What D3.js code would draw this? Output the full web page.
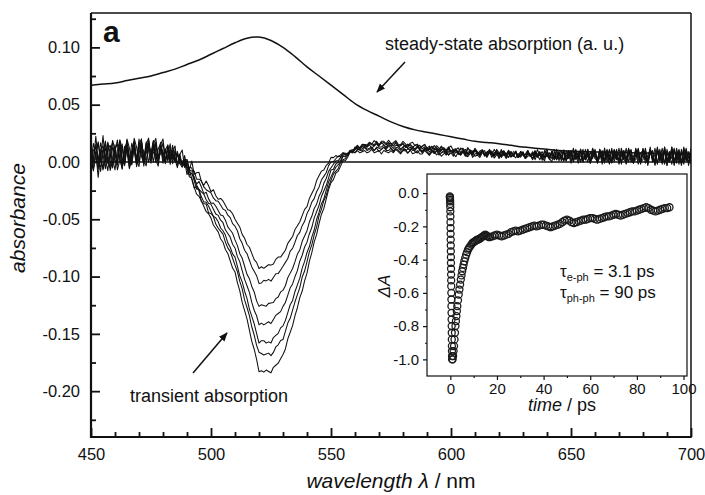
<!DOCTYPE html>
<html><head><meta charset="utf-8">
<script src="https://cdn.jsdelivr.net/npm/d3@7"></script>
<style>
body{margin:0;background:#fff}
svg{display:block}
text{font-family:"Liberation Sans",Arial,sans-serif;fill:#111}
</style>
</head><body>
<svg id="c" width="705" height="495"></svg>
<script>
// ---------------- data ----------------
const wavelengths = [450,455,460,465,470,475,480,485,490,495,500,505,510,515,520,525,530,535,540,545,550,555,560,565,570,575,580,585,590,595,600,605,610,615,620,625,630,635,640,645,650,655,660,665,670,675,680,685,690,695,700];

const steadyState = [.067,.068,.069,.071,.073,.075,.078,.081,.085,.089,.094,.099,.104,.108,.109,.106,.100,.092,.083,.075,.067,.059,.051,.045,.040,.035,.031,.028,.026,.024,.022,.020,.018,.017,.016,.0145,.013,.012,.011,.010,.0095,.009,.0088,.0085,.0082,.008,.0078,.0076,.0075,.0073,.0072];

const transient1 = [.004,.005,.006,.007,.008,.009,.008, .006,.000,-.013,-.024,-.035,-.049,-.071,-.093,-.090,-.080,-.060,-.038,-.012,.003,.007,.009, .009,.009,.009,.009,.008,.008,.007,.007,.007,.006,.006,.006,.006,.005,.005,.005,.005,.005,.005,.005,.005,.005,.005,.005,.005,.005,.005,.005];
const transient2 = [.004,.005,.006,.007,.008,.009,.008, .006,-.001,-.016,-.028,-.040,-.056,-.081,-.105,-.103,-.092,-.070,-.046,-.021,.000,.007,.010, .011,.011,.011,.010,.010,.009,.008,.008,.007,.007,.007,.006,.006,.006,.006,.005,.005,.005,.005,.005,.005,.005,.005,.005,.005,.005,.005,.005];
const transient3 = [.004,.005,.006,.007,.008,.009,.008, .006,-.002,-.020,-.034,-.048,-.067,-.097,-.126,-.124,-.112,-.087,-.059,-.030,-.004,.006,.011, .012,.012,.012,.011,.011,.010,.009,.009,.008,.008,.007,.007,.006,.006,.006,.006,.005,.005,.005,.005,.005,.005,.005,.005,.005,.005,.005,.005];
const transient4 = [.004,.005,.006,.007,.008,.009,.008, .005,-.003,-.023,-.038,-.054,-.075,-.108,-.142,-.140,-.127,-.100,-.069,-.037,-.008,.005,.012, .014,.014,.014,.013,.012,.011,.010,.009,.009,.008,.008,.007,.007,.006,.006,.006,.006,.005,.005,.005,.005,.005,.005,.005,.005,.005,.005,.005];
const transient5 = [.004,.005,.006,.007,.008,.009,.008, .005,-.004,-.026,-.043,-.060,-.084,-.120,-.157,-.157,-.143,-.114,-.080,-.044,-.012,.004,.012, .015,.015,.015,.014,.013,.012,.011,.010,.009,.009,.008,.008,.007,.007,.006,.006,.006,.006,.005,.005,.005,.005,.005,.005,.005,.005,.005,.005];
const transient6 = [.004,.005,.006,.007,.008,.009,.008, .005,-.005,-.028,-.046,-.064,-.089,-.127,-.167,-.168,-.154,-.123,-.087,-.048,-.015,.002,.012, .016,.016,.016,.015,.014,.013,.012,.011,.010,.009,.008,.008,.007,.007,.007,.006,.006,.006,.006,.005,.005,.005,.005,.005,.005,.005,.005,.005];
const transient7 = [.004,.005,.006,.007,.008,.009,.008, .005,-.006,-.031,-.050,-.070,-.097,-.138,-.182,-.183,-.169,-.135,-.096,-.054,-.018,.000,.011, .016,.017,.017,.016,.015,.013,.012,.011,.010,.009,.008,.008,.007,.007,.007,.006,.006,.006,.006,.006,.005,.005,.005,.005,.005,.005,.005,.005];

const noiseMilli = [
18,-4,12,2,-11,6,9,-3,-13,4, 11,-7,-2,13,5,-9,8,-12,3,10, -6,9,1,-10,7,12,-5,-1,9,-8, 5,-9,3,8,-6,2,-4,6,-3,1,
4,-2,-3,3,1,-2,2,-1,-2,1, 1,0,-1,1,1,-1,0,1,-1,0, -1,1,0,-1,1,0,1,-1,0,1, 0,-1,1,1,-1,0,-1,1,0,-1,
1,0,-1,0,1,-1,1,0,-1,1, 0,1,-1,0,-1,1,0,1,-1,0, 1,-1,0,1,0,-1,1,-1,0,1, -1,0,2,-1,0,1,-2,1,0,-1,
1,-1,2,0,-2,1,1,-1,2,-1, 0,2,-1,-1,2,0,-2,1,2,-1, 1,-2,0,2,-1,1,-2,2,0,-1, 2,-1,-2,1,3,-1,0,-2,2,1,
-2,3,0,-1,2,-3,1,2,-1,-2, 3,0,-2,2,-1,3,-2,0,1,-3, 2,1,-3,2,-1,0,3,-2,1,-3, 4,-1,-3,2,5,-4,1,-2,4,-5,
3,1,-5,4,-2,6,-4,0,3,-6, 5,-2,-4,6,1,-5,3,-3,7,-5, 2,-6,5,0,-4,7,-3,-5,6,-1, -6,5,3,-7,4,-2,-5,8,-4,2,
-7,6,-3,5,-8,4,1,-6,7,-4, 3];
const noiseShift = [-5,2,-2,5,1,-3,4];

const xTicks = [450,500,550,600,650,700];
const xMinor = [460,470,480,490,510,520,530,540,560,570,580,590,610,620,630,640,660,670,680,690];
const yTicks = [-0.20,-0.15,-0.10,-0.05,0.00,0.05,0.10];
const yTickLabels = ["-0.20","-0.15","-0.10","-0.05","0.00","0.05","0.10"];
const yMinor = [-0.225,-0.175,-0.125,-0.075,-0.025,0.025,0.075,0.125];

// inset: normalized transient at the bleach maximum vs delay
const insetTime = [
-0.2,-0.17,-0.14,-0.11,-0.08,-0.05,-0.02,0.01,0.04,0.07,0.1,0.13,0.16,0.19,0.22,0.25,0.28,0.31,0.34,0.37,0.4,0.43,0.46,0.49,0.52,0.55,0.58,0.61,0.64,0.67,0.7,0.73,0.76,
1.0,1.2,1.4,1.6,1.8,2.0,2.2,2.4,2.6,2.8,3.0,3.3,3.6,3.9,4.2,4.5,4.8,5.1,5.4,5.7,6.0,6.4,6.8,7.2,7.6,8.0,
8.5,9.0,9.5,10,10.5,11,11.5,12,12.5,13,13.5,14,14.5,15,15.5,16,16.5,17,18,19,20,21,22,23,24,25,
26,27,28,29,30,31,32,33,34,35,36,37,38,39,40,41,42,43,44,45,46,47,48,49,50,51,52,53,54,55,56,57,58,59,60,
61,62,63,64,65,66,67,68,69,70,71,72,73,74,75,76,77,78,79,80,81,82,83,84,85,86,87,88,89,90,91,92,93,94];
const insetDA = [
-0.02,-0.025,-0.03,-0.04,-0.05,-0.065,-0.085,-0.11,-0.14,-0.175,-0.21,-0.245,-0.28,-0.315,-0.35,-0.385,-0.42,-0.455,-0.49,-0.525,-0.56,-0.6,-0.64,-0.68,-0.72,-0.76,-0.8,-0.84,-0.88,-0.92,-0.95,-0.98,-1.0,
-1.0,-0.98,-0.95,-0.92,-0.88,-0.84,-0.80,-0.77,-0.74,-0.71,-0.68,-0.645,-0.61,-0.58,-0.55,-0.52,-0.495,-0.47,-0.45,-0.43,-0.41,-0.39,-0.37,-0.355,-0.34,-0.33,
-0.32,-0.31,-0.30,-0.295,-0.29,-0.285,-0.28,-0.28,-0.275,-0.27,-0.265,-0.26,-0.255,-0.25,-0.255,-0.26,-0.265,-0.265,-0.26,-0.255,-0.25,-0.255,-0.26,-0.255,-0.25,-0.245,
-0.235,-0.23,-0.225,-0.23,-0.225,-0.22,-0.215,-0.21,-0.205,-0.20,-0.195,-0.20,-0.195,-0.19,-0.19,-0.195,-0.20,-0.205,-0.20,-0.195,-0.19,-0.185,-0.175,-0.165,-0.16,-0.165,-0.175,-0.18,-0.175,-0.17,-0.165,-0.16,-0.16,-0.155,-0.15,
-0.15,-0.155,-0.16,-0.155,-0.15,-0.145,-0.14,-0.14,-0.135,-0.13,-0.125,-0.13,-0.135,-0.13,-0.125,-0.12,-0.115,-0.11,-0.11,-0.105,-0.10,-0.095,-0.09,-0.085,-0.09,-0.10,-0.105,-0.11,-0.105,-0.10,-0.095,-0.09,-0.09,-0.085];
const insetXTicks = [0,20,40,60,80,100];
const insetXMinor = [10,30,50,70,90];
const insetYTicks = [0.0,-0.2,-0.4,-0.6,-0.8,-1.0];
const insetYLabels = ["0.0","-0.2","-0.4","-0.6","-0.8","-1.0"];
const insetYMinor = [-0.1,-0.3,-0.5,-0.7,-0.9];

// ---------------- drawing ----------------
const svg = d3.select("#c");
svg.append("rect").attr("width",705).attr("height",495).attr("fill","#fff");

const L=91,R=691,T=13,B=437;
const x = d3.scaleLinear().domain([450,700]).range([L,R]);
const y = d3.scaleLinear().domain([-0.24,0.13]).range([B,T]);

svg.append("defs").html(
 '<clipPath id="pc"><rect x="'+L+'" y="'+T+'" width="'+(R-L)+'" height="'+(B-T)+'"/></clipPath>'+
 '<marker id="ah" viewBox="0 0 10 10" refX="9" refY="5" markerWidth="9" markerHeight="9" markerUnits="userSpaceOnUse" orient="auto"><path d="M0,1 L10,5 L0,9 z" fill="#111"/></marker>');

const plot = svg.append("g").attr("clip-path","url(#pc)");

// zero line
plot.append("line").attr("x1",x(450)).attr("x2",x(700)).attr("y1",y(0)).attr("y2",y(0))
  .attr("stroke","#111").attr("stroke-width",1.6);

// transient curves
const series = [transient1,transient2,transient3,transient4,transient5,transient6,transient7];
const line = d3.line().x(d=>x(d[0])).y(d=>y(d[1]));
const nLast = noiseMilli.length-1;
series.forEach((vals,k)=>{
  const f = d3.scaleLinear().domain(wavelengths).range(vals);
  const sign = k%2 ? -1 : 1;
  const pts = [];
  for(let i=0;i<=nLast;i++){
    const wl = 450+i;
    let j = i+noiseShift[k];
    if(j<0) j = -j;
    if(j>nLast) j = 2*nLast-j;
    pts.push([wl, f(wl) + sign*noiseMilli[j]/1000]);
  }
  plot.append("path").attr("d",line(pts)).attr("fill","none")
    .attr("stroke","#111").attr("stroke-width",1.05).attr("stroke-linejoin","round");
});

// steady-state curve
plot.append("path")
  .attr("d", d3.line().x((d,i)=>x(wavelengths[i])).y(d=>y(d)).curve(d3.curveCatmullRom)(steadyState))
  .attr("fill","none").attr("stroke","#111").attr("stroke-width",1.5);

// axes
const gy = svg.append("g").attr("transform","translate("+L+",0)")
  .call(d3.axisLeft(y).tickValues(yTicks).tickSize(-9).tickPadding(11).tickFormat((d,i)=>yTickLabels[i]));
const gym = svg.append("g").attr("transform","translate("+L+",0)")
  .call(d3.axisLeft(y).tickValues(yMinor).tickSize(-5).tickFormat(""));
const gx = svg.append("g").attr("transform","translate(0,"+B+")")
  .call(d3.axisBottom(x).tickValues(xTicks).tickSize(-9).tickPadding(11).tickFormat(d3.format("d")));
const gxm = svg.append("g").attr("transform","translate(0,"+B+")")
  .call(d3.axisBottom(x).tickValues(xMinor).tickSize(-5).tickFormat(""));
[gy,gym,gx,gxm].forEach(g=>{
  g.select(".domain").remove();
  g.selectAll(".tick line").attr("stroke","#111").attr("stroke-width",1.8);
  g.selectAll(".tick text").attr("font-size","16.5px").attr("fill","#111")
    .attr("font-family","'Liberation Sans',Arial,sans-serif");
});

// frame
svg.append("line").attr("x1",L).attr("x2",R).attr("y1",T).attr("y2",T).attr("stroke","#111").attr("stroke-width",1.5);
svg.append("line").attr("x1",R).attr("x2",R).attr("y1",T).attr("y2",B).attr("stroke","#111").attr("stroke-width",1.5);
svg.append("line").attr("x1",L).attr("x2",L).attr("y1",T).attr("y2",B+1).attr("stroke","#111").attr("stroke-width",2.2);
svg.append("line").attr("x1",L-1).attr("x2",R+0.75).attr("y1",B).attr("y2",B).attr("stroke","#111").attr("stroke-width",2.2);

// axis titles
svg.append("text").attr("transform","translate(25,218) rotate(-90)").attr("text-anchor","middle")
  .attr("font-size","21px").attr("font-style","italic").text("absorbance");
const xt = svg.append("text").attr("x",391).attr("y",488).attr("text-anchor","middle").attr("font-size","21px");
xt.append("tspan").attr("font-style","italic").text("wavelength λ");
xt.append("tspan").text(" / nm");

// panel letter
svg.append("text").attr("x",103).attr("y",42).attr("font-size","30px").attr("font-weight","bold").text("a");

// annotations
svg.append("text").attr("x",385).attr("y",50).attr("font-size","18px").text("steady-state absorption (a. u.)");
svg.append("line").attr("x1",405).attr("y1",62).attr("x2",377).attr("y2",92)
  .attr("stroke","#111").attr("stroke-width",1.5).attr("marker-end","url(#ah)");
svg.append("text").attr("x",130).attr("y",402).attr("font-size","18px").text("transient absorption");
svg.append("line").attr("x1",193).attr("y1",373).attr("x2",227).attr("y2",333)
  .attr("stroke","#111").attr("stroke-width",1.5).attr("marker-end","url(#ah)");

// ---------------- inset ----------------
const iL=427,iR=687,iT=174,iB=376;
const ix = d3.scaleLinear().domain([-10,101.5]).range([iL,iR]);
const iy = d3.scaleLinear().domain([-1.1,0.115]).range([iB,iT]);
svg.append("rect").attr("x",iL).attr("y",iT).attr("width",iR-iL).attr("height",iB-iT)
  .attr("fill","#fff").attr("stroke","#111").attr("stroke-width",1.2);

const igy = svg.append("g").attr("transform","translate("+iL+",0)")
  .call(d3.axisLeft(iy).tickValues(insetYTicks).tickSize(4).tickPadding(4).tickFormat((d,i)=>insetYLabels[i]));
const igym = svg.append("g").attr("transform","translate("+iL+",0)")
  .call(d3.axisLeft(iy).tickValues(insetYMinor).tickSize(2).tickFormat(""));
const igx = svg.append("g").attr("transform","translate(0,"+iB+")")
  .call(d3.axisBottom(ix).tickValues(insetXTicks).tickSize(4).tickPadding(3).tickFormat(d3.format("d")));
const igxm = svg.append("g").attr("transform","translate(0,"+iB+")")
  .call(d3.axisBottom(ix).tickValues(insetXMinor).tickSize(2).tickFormat(""));
[igy,igym,igx,igxm].forEach(g=>{
  g.select(".domain").remove();
  g.selectAll(".tick line").attr("stroke","#111").attr("stroke-width",1.2);
  g.selectAll(".tick text").attr("font-size","15px").attr("fill","#111")
    .attr("font-family","'Liberation Sans',Arial,sans-serif");
});

svg.append("g").selectAll("circle").data(insetTime).join("circle")
  .attr("cx",d=>ix(d)).attr("cy",(d,i)=>iy(insetDA[i])).attr("r",3.5)
  .attr("fill","none").attr("stroke","#1a1a1a").attr("stroke-width",1.3);

const it = svg.append("text").attr("x",562).attr("y",411).attr("text-anchor","middle").attr("font-size","18px");
it.append("tspan").attr("font-style","italic").text("time");
it.append("tspan").text(" / ps");
svg.append("text").attr("transform","translate(390,286) rotate(-90)").attr("text-anchor","middle")
  .attr("font-size","17px").attr("font-style","italic").text("ΔA");

const t1 = svg.append("text").attr("x",560).attr("y",277).attr("font-size","17px");
t1.append("tspan").text("τ");
t1.append("tspan").attr("font-size","11px").attr("dy",4).text("e-ph");
t1.append("tspan").attr("dy",-4).text(" = 3.1 ps");
const t2 = svg.append("text").attr("x",560).attr("y",298).attr("font-size","17px");
t2.append("tspan").text("τ");
t2.append("tspan").attr("font-size","11px").attr("dy",4).text("ph-ph");
t2.append("tspan").attr("dy",-4).text(" = 90 ps");
</script>
</body></html>
